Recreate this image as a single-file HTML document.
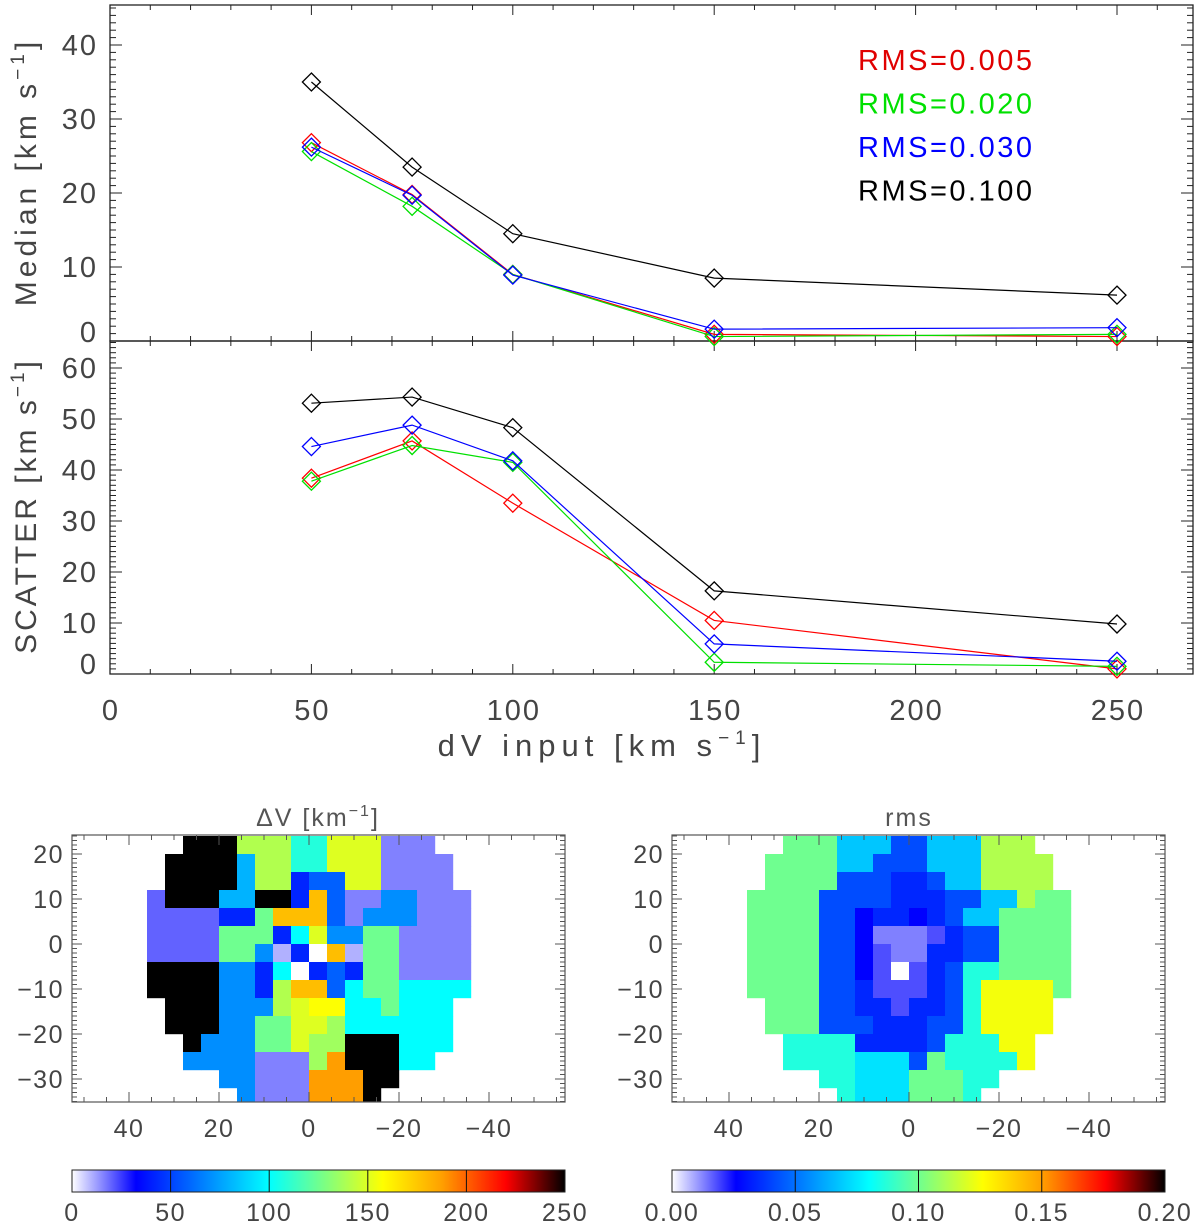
<!DOCTYPE html>
<html><head><meta charset="utf-8">
<style>
html,body{margin:0;padding:0;background:#fff;}
svg{display:block;font-family:"Liberation Sans",sans-serif;}
</style></head>
<body>
<svg id="fig" width="1200" height="1224" viewBox="0 0 1200 1224">
<defs>
<clipPath id="clipL"><rect x="72" y="835" width="493" height="267"/></clipPath>
<clipPath id="clipR"><rect x="672" y="835" width="493" height="267"/></clipPath>
<linearGradient id="cmap" x1="0" x2="1" y1="0" y2="0">
<stop offset="0" stop-color="#ffffff"/><stop offset="0.13" stop-color="#0000ff"/><stop offset="0.4" stop-color="#00ffff"/><stop offset="0.63" stop-color="#ffff00"/><stop offset="0.75" stop-color="#ffa000"/><stop offset="0.88" stop-color="#ff0000"/><stop offset="1" stop-color="#000000"/>
</linearGradient>
</defs>
</svg>
<script>
// ---- data ----
const xVals=[50,75,100,150,250];
const medRed=[26.8,19.8,9.0,0.9,0.6];
const medGreen=[25.6,18.2,9.0,0.6,0.9];
const medBlue=[26.2,19.7,8.9,1.6,1.8];
const medBlack=[35.0,23.5,14.5,8.5,6.2];
const scatRed=[38.4,45.7,33.5,10.5,1.0];
const scatGreen=[37.8,44.8,41.5,2.3,1.5];
const scatBlue=[44.6,48.8,41.8,5.9,2.5];
const scatBlack=[53.1,54.3,48.3,16.3,9.8];
const legendLabels=["RMS=0.005","RMS=0.020","RMS=0.030","RMS=0.100"];
const xTicks=[0,50,100,150,200,250];
const medTicks=[0,10,20,30,40];
const scatTicks=[0,10,20,30,40,50,60];
const mapXTicks=[40,20,0,-20,-40];
const mapYTicks=[20,10,0,-10,-20,-30];
const cbLeftTicks=[0,50,100,150,200,250];
const cbRightTicks=["0.00","0.05","0.10","0.15","0.20"];
// heatmap cells: 4-unit bins, columns x=34..-34, rows y=22..-34
const dvGrid=[
"..KKKYYYAAEEEPPP..",
".KKKKLYYAAEEEPPPP.",
".KKKKLYYBMMEEPPPP.",
"QKKKLLKKBOMPPZZPPP",
"QQQQBBGOOOMPZZZPPP",
"QQQQGGGBCEZZGGPPPP",
"QQQQGGZVBWOVGGPPPP",
"KKKKZZBCWBMBGGPPPP",
"KKKKZZBYOOMCGGCCCC",
".KKKZZZYEFFCCGCCC.",
".KKKZZGGEEHCCCCCC.",
"..KZZZGGEHHKKKCCC.",
"..ZZZZPPPHRKKKCC..",
"....ZZPPPRRRKK....",
".....ZPPPRRRK....."];
const dvValues={K:250,Y:140,A:108,E:150,P:16,Q:20,L:80,B:42,M:58,Z:70,G:125,C:100,O:178,R:188,F:157,H:136,W:0,V:10};
const rmsGrid=[
"..ggglllbblllyyy..",
".ggggllbbblllyyyy.",
".ggggbbbddbllyyyy.",
"ggggbbbbdddbbllygg",
"ggggbbnddndbllgggg",
"ggggbbnwwwvdbbgggg",
"ggggbbnvwwddbbgggg",
"ggggbbnvWvdbttgggg",
"ggggbbdvvvdbtEEEEg",
".gggbbddvddbtEEEE.",
".gggbbbdddbbtEEEE.",
"..ttttddddbtttEE..",
"..ttttcccbgttttE..",
"....ttcccgggtt....",
".....tcccgggt....."];
const rmsValues={g:0.100,y:0.112,l:0.068,b:0.042,d:0.034,n:0.026,v:0.018,w:0.013,t:0.086,c:0.074,E:0.124,W:0.0};

// ---- helpers ----
const NS="http://www.w3.org/2000/svg";
const svg=document.getElementById('fig');
function mk(tag,attrs,parent){const e=document.createElementNS(NS,tag);for(const k in attrs)e.setAttribute(k,attrs[k]);(parent||svg).appendChild(e);return e;}
const stops=[[0,[255,255,255]],[0.13,[0,0,255]],[0.4,[0,255,255]],[0.63,[255,255,0]],[0.75,[255,160,0]],[0.88,[255,0,0]],[1,[0,0,0]]];
function cmap(t){t=Math.max(0,Math.min(1,t));for(let i=1;i<stops.length;i++){if(t<=stops[i][0]){const a=stops[i-1],b=stops[i];const f=(t-a[0])/(b[0]-a[0]);const c=a[1].map((v,k)=>Math.round(v+(b[1][k]-v)*f));return `rgb(${c[0]},${c[1]},${c[2]})`;}}return 'rgb(0,0,0)';}
const TXT="#444";

// ---- line plots axes ----
const PX0=110,PX1=1193;
function sx(v){return PX0+v*4.028;}
function syTop(v){return 341-v*7.4;}
function syMid(v){return 674-v*5.1;}
const TOP0=5,MIDB=341,BOT=674;

function frame(y0,y1,name){
  const r=mk('rect',{x:PX0,y:y0,width:PX1-PX0,height:y1-y0,fill:'none',stroke:'#222','stroke-width':1.3});
  
  
}
frame(TOP0,MIDB,'median-panel-frame');
frame(MIDB,BOT,'scatter-panel-frame');

[[TOP0,1],[MIDB,1],[MIDB,-1],[BOT,-1]].forEach(([y,dir])=>{
  for(let v=0;v<=265;v+=10){
    const maj=v%50===0;const L=maj?10:5;
    const t=mk('line',{x1:sx(v),x2:sx(v),y1:y,y2:y+dir*L,stroke:'#222','stroke-width':1});
    
    
  }
});
for(let v=1;v<=45;v++){
  const maj=v%10===0;const L=maj?12:6;const y=syTop(v);
  [[PX0,1],[PX1,-1]].forEach(([x,d])=>{const t=mk('line',{x1:x,x2:x+d*L,y1:y,y2:y,stroke:'#222','stroke-width':1});
  
  });
}
for(let v=1;v<=65;v++){
  const maj=v%10===0;const L=maj?12:6;const y=syMid(v);
  [[PX0,1],[PX1,-1]].forEach(([x,d])=>{const t=mk('line',{x1:x,x2:x+d*L,y1:y,y2:y,stroke:'#222','stroke-width':1});
  
  });
}
const LS='2px';
medTicks.forEach(v=>{const y=v===0?332:syTop(v);const t=mk('text',{x:98,y:y+10,'text-anchor':'end','font-size':29,fill:TXT,'letter-spacing':LS});t.textContent=v;
  
  });
scatTicks.forEach(v=>{const y=v===0?664:syMid(v);const t=mk('text',{x:98,y:y+10,'text-anchor':'end','font-size':29,fill:TXT,'letter-spacing':LS});t.textContent=v;
  
  });
xTicks.forEach(v=>{const t=mk('text',{x:sx(v)+1,y:720,'text-anchor':'middle','font-size':29,fill:TXT,'letter-spacing':LS});t.textContent=v;
  
  });

function unitTitle(x,y,rot,pre,name,fs,ls){
  const t=mk('text',{x:x,y:y,'text-anchor':'middle','font-size':fs,fill:TXT,'letter-spacing':ls,transform:rot?`rotate(-90 ${x} ${y})`:''});
  t.appendChild(document.createTextNode(pre+' [km s'));
  const s=mk('tspan',{dy:-12,'font-size':19},t);s.textContent='−1';
  const e=mk('tspan',{dy:12},t);e.textContent=']';
  
  
}
unitTitle(36,172,true,'Median','median-y-axis-title',30,'4px');
unitTitle(36,506,true,'SCATTER','scatter-y-axis-title',30,'3px');
unitTitle(602,756,false,'dV input','x-axis-title',31,'6px');

const series=[["red",'#ff0000',medRed,scatRed],["green",'#00e000',medGreen,scatGreen],["blue",'#0000ff',medBlue,scatBlue],["black",'#000000',medBlack,scatBlack]];
function drawSeries(vals,ys,color,name){
  const pts=vals.map((v,i)=>sx(xVals[i])+','+ys(v)).join(' ');
  const l=mk('polyline',{points:pts,fill:'none',stroke:color,'stroke-width':1.2});
  
  
  vals.forEach((v,i)=>{const cx=sx(xVals[i]),cy=ys(v),r=9;
    const d=mk('polygon',{points:`${cx},${cy-r} ${cx+r},${cy} ${cx},${cy+r} ${cx-r},${cy}`,fill:'none',stroke:color,'stroke-width':1.3});
    
    });
}
series.forEach(s=>{drawSeries(s[2],syTop,s[1],'median-'+s[0]);drawSeries(s[3],syMid,s[1],'scatter-'+s[0]);});
const legendColors=['#e00000','#00e000','#0000ff','#000000'];
legendLabels.forEach((lab,i)=>{const t=mk('text',{x:858,y:70+i*43.5,'font-size':29,fill:legendColors[i],'letter-spacing':'2.5px'});t.textContent=lab;
  
  });

// ---- maps ----
function drawMap(ox,grid,vals,vmax,clip,name,title){
  const g=mk('g',{'clip-path':`url(#${clip})`});
  
  
  const mx=x=>ox+309-4.5*x, my=y=>944-4.5*y;
  grid.forEach((row,j)=>{for(let i=0;i<row.length;i++){const ch=row[i];if(ch==='.')continue;
    const x0=36-4*i,y0=24-4*j;
    const c=mk('rect',{x:mx(x0),y:my(y0),width:18.2,height:18.2,fill:cmap(vals[ch]/vmax)},g);
    
    }});
  const f=mk('rect',{x:ox+72,y:835,width:493,height:267,fill:'none',stroke:'#555','stroke-width':1.2});
  
  
  for(let v=-35;v<=24;v++){const maj=v%10===0;const L=maj?10:5;
    [[ox+72,1],[ox+565,-1]].forEach(([x,d])=>{const t=mk('line',{x1:x,x2:x+d*L,y1:my(v),y2:my(v),stroke:'#555','stroke-width':1});
    
    });}
  for(let v=-55;v<=50;v+=5){const maj=v%20===0;const L=maj?10:5;
    [[835,1],[1102,-1]].forEach(([y,d])=>{const t=mk('line',{x1:mx(v),x2:mx(v),y1:y,y2:y+d*L,stroke:'#555','stroke-width':1});
    
    });}
  mapYTicks.forEach(v=>{const t=mk('text',{x:ox+64,y:my(v)+9,'text-anchor':'end','font-size':25,fill:TXT,'letter-spacing':'1.5px'});t.textContent=String(v).replace('-','−');
    
    });
  mapXTicks.forEach(v=>{const t=mk('text',{x:mx(v),y:1137,'text-anchor':'middle','font-size':25,fill:TXT,'letter-spacing':'1.5px'});t.textContent=String(v).replace('-','−');
    
    });
  const tt=mk('text',{x:ox+318,y:826,'text-anchor':'middle','font-size':25,fill:'#555','letter-spacing':'2px'});
  if(title){tt.appendChild(document.createTextNode('ΔV [km'));const s=mk('tspan',{dy:-10,'font-size':16},tt);s.textContent='−1';const e=mk('tspan',{dy:10},tt);e.textContent=']';}
  else{tt.textContent='rms';tt.setAttribute('x',ox+309);}
  
  
}
drawMap(0,dvGrid,dvValues,250,'clipL','dv-map',true);
drawMap(600,rmsGrid,rmsValues,0.2,'clipR','rms-map',false);

function colorbar(ox,labels,name){
  const b=mk('rect',{x:ox+72,y:1170,width:493,height:22,fill:'url(#cmap)',stroke:'#222','stroke-width':1});
  
  
  const n=labels.length-1;
  labels.forEach((lab,i)=>{const x=ox+72+493*i/n;
    if(i>0&&i<n){const l=mk('line',{x1:x,x2:x,y1:1170,y2:1192,stroke:'#111','stroke-width':1});
      
      }
    const t=mk('text',{x:x,y:1221,'text-anchor':'middle','font-size':25,fill:TXT,'letter-spacing':'1.5px'});t.textContent=lab;
    
    });
}
colorbar(0,cbLeftTicks,'dv-colorbar');
colorbar(600,cbRightTicks,'rms-colorbar');
</script>
</body></html>
